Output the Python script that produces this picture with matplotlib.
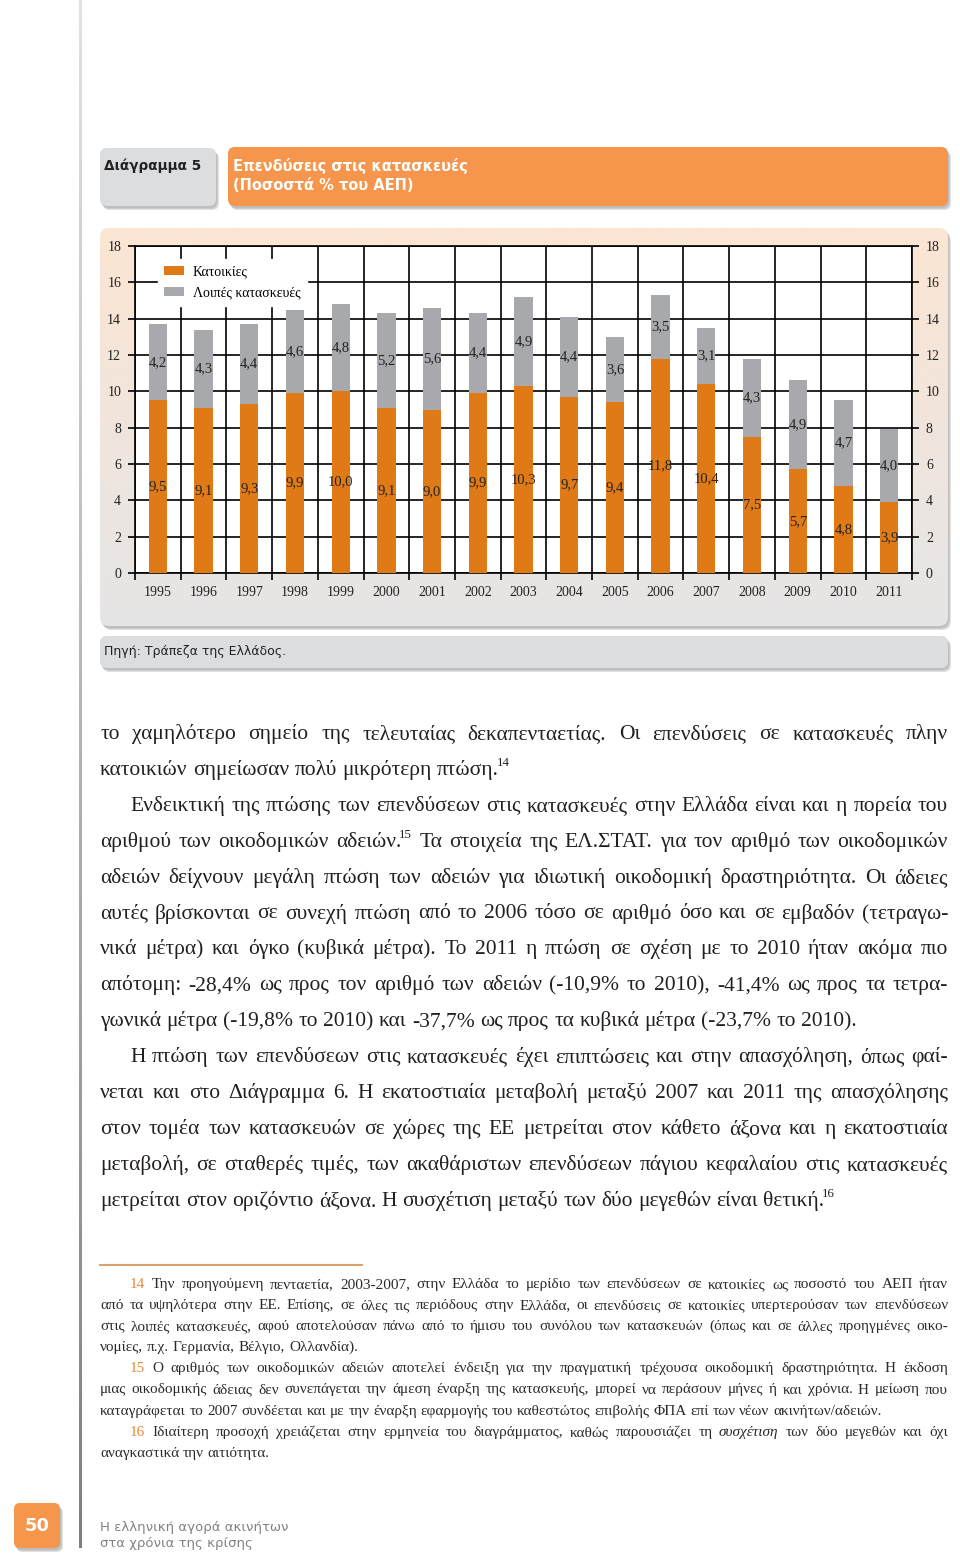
import matplotlib
matplotlib.use("Agg")
import matplotlib.pyplot as plt
import numpy as np
from matplotlib.patches import FancyBboxPatch
from matplotlib.colors import to_rgb

# chart data (Bank of Greece, % of GDP)
years = [str(y) for y in range(1995, 2012)]
housing = [9.5, 9.1, 9.3, 9.9, 10.0, 9.1, 9.0, 9.9, 10.3, 9.7, 9.4, 11.8, 10.4, 7.5, 5.7, 4.8, 3.9]
other = [4.2, 4.3, 4.4, 4.6, 4.8, 5.2, 5.6, 4.4, 4.9, 4.4, 3.6, 3.5, 3.1, 4.3, 4.9, 4.7, 4.0]
series_names = ["Κατοικίες", "Λοιπές κατασκευές"]
y_ticks = list(range(0, 19, 2))

# page text
label_box = "Διάγραμμα 5"
title_lines = ["Επενδύσεις στις κατασκευές", "(Ποσοστά % του ΑΕΠ)"]
source = "Πηγή: Τράπεζα της Ελλάδος."
footer_lines = ["Η ελληνική αγορά ακινήτων", "στα χρόνια της κρίσης"]
page_no = "50"

# (text, indented, justified)  ^ = superscript, # = orange word, * = italic word
body_lines = [
    ("το χαμηλότερο σημείο της τελευταίας δεκαπενταετίας. Οι επενδύσεις σε κατασκευές πλην", 0, True),
    ("κατοικιών σημείωσαν πολύ μικρότερη πτώση.^14", 0, False),
    ("Ενδεικτική της πτώσης των επενδύσεων στις κατασκευές στην Ελλάδα είναι και η πορεία του", 1, True),
    ("αριθμού των οικοδομικών αδειών.^15 Τα στοιχεία της ΕΛ.ΣΤΑΤ. για τον αριθμό των οικοδομικών", 0, True),
    ("αδειών δείχνουν μεγάλη πτώση των αδειών για ιδιωτική οικοδομική δραστηριότητα. Οι άδειες", 0, True),
    ("αυτές βρίσκονται σε συνεχή πτώση από το 2006 τόσο σε αριθμό όσο και σε εμβαδόν (τετραγω-", 0, True),
    ("νικά μέτρα) και όγκο (κυβικά μέτρα). Το 2011 η πτώση σε σχέση με το 2010 ήταν ακόμα πιο", 0, True),
    ("απότομη: -28,4% ως προς τον αριθμό των αδειών (-10,9% το 2010), -41,4% ως προς τα τετρα-", 0, True),
    ("γωνικά μέτρα (-19,8% το 2010) και -37,7% ως προς τα κυβικά μέτρα (-23,7% το 2010).", 0, False),
    ("Η πτώση των επενδύσεων στις κατασκευές έχει επιπτώσεις και στην απασχόληση, όπως φαί-", 1, True),
    ("νεται και στο Διάγραμμα 6. Η εκατοστιαία μεταβολή μεταξύ 2007 και 2011 της απασχόλησης", 0, True),
    ("στον τομέα των κατασκευών σε χώρες της ΕΕ μετρείται στον κάθετο άξονα και η εκατοστιαία", 0, True),
    ("μεταβολή, σε σταθερές τιμές, των ακαθάριστων επενδύσεων πάγιου κεφαλαίου στις κατασκευές", 0, True),
    ("μετρείται στον οριζόντιο άξονα. Η συσχέτιση μεταξύ των δύο μεγεθών είναι θετική.^16", 0, False),
]

note_lines = [
    ("#14 Την προηγούμενη πενταετία, 2003-2007, στην Ελλάδα το μερίδιο των επενδύσεων σε κατοικίες ως ποσοστό του ΑΕΠ ήταν", 1, True),
    ("από τα υψηλότερα στην ΕΕ. Επίσης, σε όλες τις περιόδους στην Ελλάδα, οι επενδύσεις σε κατοικίες υπερτερούσαν των επενδύσεων", 0, True),
    ("στις λοιπές κατασκευές, αφού αποτελούσαν πάνω από το ήμισυ του συνόλου των κατασκευών (όπως και σε άλλες προηγμένες οικο-", 0, True),
    ("νομίες, π.χ. Γερμανία, Βέλγιο, Ολλανδία).", 0, False),
    ("#15 Ο αριθμός των οικοδομικών αδειών αποτελεί ένδειξη για την πραγματική τρέχουσα οικοδομική δραστηριότητα. Η έκδοση", 1, True),
    ("μιας οικοδομικής άδειας δεν συνεπάγεται την άμεση έναρξη της κατασκευής, μπορεί να περάσουν μήνες ή και χρόνια. Η μείωση που", 0, True),
    ("καταγράφεται το 2007 συνδέεται και με την έναρξη εφαρμογής του καθεστώτος επιβολής ΦΠΑ επί των νέων ακινήτων/αδειών.", 0, False),
    ("#16 Ιδιαίτερη προσοχή χρειάζεται στην ερμηνεία του διαγράμματος, καθώς παρουσιάζει τη *συσχέτιση των δύο μεγεθών και όχι", 1, True),
    ("αναγκαστικά την αιτιότητα.", 0, False),
]

ORANGE = "#E07A16"
GREY = "#A8A9AD"
HEAD_ORANGE = "#F6964C"
BOX_GREY = "#DCDDDF"
TXT = "#231F20"
NOTE_ORANGE = "#E8893A"
SERIF = "Liberation Serif"
SANS = "DejaVu Sans"

W, H = 960, 1560
fig = plt.figure(figsize=(W / 100, H / 100), dpi=100)
page = fig.add_axes([0, 0, 1, 1])
page.axis("off")


def reset_page():
    page.set_xlim(0, W)
    page.set_ylim(H, 0)


def rbox(x0, y0, x1, y1, color, r=8, shadow=True, z=1):
    if shadow:
        for i, a in enumerate([0.10, 0.12, 0.16]):
            page.add_patch(FancyBboxPatch((x0 + 1 + i, y0 + 2 + i), x1 - x0, y1 - y0,
                                          boxstyle=f"round,pad=0,rounding_size={r}",
                                          fc="#444444", ec="none", alpha=a, zorder=z - 0.5))
    p = FancyBboxPatch((x0, y0), x1 - x0, y1 - y0, boxstyle=f"round,pad=0,rounding_size={r}",
                       fc=color, ec="none", zorder=z)
    page.add_patch(p)
    return p


def vgrad(c_top, c_bot, n=200):
    a, b = np.array(to_rgb(c_top)), np.array(to_rgb(c_bot))
    t = np.linspace(0, 1, n)[:, None]
    return (a + (b - a) * t)[:, None, :]


# left page rule
page.imshow(vgrad("#E2E2E2", "#7F7F7F"), extent=(78.5, 81.5, 1548, 0), aspect="auto", zorder=1)

# header boxes
rbox(100, 148, 216, 206, BOX_GREY, r=7)
page.text(104, 166, label_box, family=SANS, weight="bold", fontsize=9.8, color="#222222", va="center")
rbox(228, 147, 948, 206, HEAD_ORANGE, r=7)
page.text(233, 166, title_lines[0], family=SANS, weight="bold", fontsize=10.5, color="white", va="center")
page.text(233, 185, title_lines[1], family=SANS, weight="bold", fontsize=10.5, color="white", va="center")

# chart panel with gradient
panel = rbox(100, 228, 948, 626, "none", r=9)
im = page.imshow(vgrad("#FCE5D3", "#E5E5E6"), extent=(100, 948, 626, 228), aspect="auto", zorder=1.1)
im.set_clip_path(panel)

# source box
rbox(100, 636, 948, 668, BOX_GREY, r=7)
page.text(104, 651, source, family=SANS, fontsize=9, color="#222222", va="center")

# footer
rbox(14, 1503, 60, 1548, HEAD_ORANGE, r=6)
page.text(37, 1526, page_no, family=SANS, weight="bold", fontsize=13, color="white", ha="center", va="center")
page.text(100, 1527, footer_lines[0], family=SANS, fontsize=9.5, color="#808285", va="center")
page.text(100, 1543, footer_lines[1], family=SANS, fontsize=9.5, color="#808285", va="center")

# footnote rule
page.plot([100, 362], [1265, 1265], color="#D9A46B", lw=1.5)
reset_page()

# ---------- chart ----------
L, R, T, B = 135, 912, 246, 573
ax = fig.add_axes([L / W, 1 - B / H, (R - L) / W, (B - T) / H])
ax.set_facecolor("white")
x = np.arange(len(years))
b1 = ax.bar(x, housing, 0.4, color=ORANGE, label=series_names[0], zorder=3)
b2 = ax.bar(x, other, 0.4, bottom=housing, color=GREY, label=series_names[1], zorder=3)

for i in range(len(years)):
    ax.text(x[i], housing[i] / 2, f"{housing[i]:.1f}".replace(".", ","), ha="center", va="center",
            family=SERIF, fontsize=10.5, color="#222222", zorder=4)
    ax.text(x[i], housing[i] + other[i] / 2, f"{other[i]:.1f}".replace(".", ","), ha="center", va="center",
            family=SERIF, fontsize=10.5, color="#222222", zorder=4)

ax.set_xlim(-0.5, len(years) - 0.5)
ax.set_ylim(0, 18)
ax.set_xticks(np.arange(len(years) + 1) - 0.5)
ax.set_xticklabels([])
ax.set_xticks(x, minor=True)
ax.set_xticklabels(years, minor=True, family=SERIF, fontsize=10, color="#222222")
ax.tick_params(axis="x", which="major", length=5, width=1.2, direction="out", color="black")
ax.tick_params(axis="x", which="minor", length=0, pad=9)
ax.set_yticks(y_ticks)
ax.set_yticklabels([str(v) for v in y_ticks], family=SERIF, fontsize=10, color="#222222")
ax.tick_params(axis="y", left=True, right=True, labelleft=True, labelright=True,
               length=5, width=1.2, pad=5, color="black")
for lab in ax.get_yticklabels():
    lab.set_family(SERIF)
ax.set_axisbelow(True)
ax.grid(True, which="major", color="black", lw=1.2)
for s in ax.spines.values():
    s.set_color("black")
    s.set_linewidth(1.2)

leg = ax.legend(loc="upper left", bbox_to_anchor=((158 - L) / (R - L), (B - 259) / (B - T)),
                borderaxespad=0, borderpad=0.45, frameon=True, fancybox=False, framealpha=1,
                facecolor="white", edgecolor="white", handlelength=1.4, handleheight=0.6,
                handletextpad=0.65, labelspacing=0.6, prop={"family": SERIF, "size": 10})
leg.set_zorder(5)

# ---------- running text ----------
renderer = fig.canvas.get_renderer()
probe = page.text(0, 0, "", family=SERIF)


def parse(w):
    color, style, sup = None, "normal", None
    if w.startswith("#"):
        color, w = NOTE_ORANGE, w[1:]
    if w.startswith("*"):
        style, w = "italic", w[1:]
    if "^" in w:
        w, sup = w.split("^")
    return w, sup, color, style


def measure(s, size, style="normal"):
    probe.set_text(s)
    probe.set_fontsize(size)
    probe.set_fontstyle(style)
    return probe.get_window_extent(renderer).width


def line_width(text, size):
    total, n = 0.0, 0
    for w in text.split():
        main, sup, c, st = parse(w)
        total += measure(main, size, st)
        if sup:
            total += measure(sup, size * 0.6) - 2
        n += 1
    return total, n


def fit(lines, size, x0, x1, indent, min_gap=0.2):
    f = 1.0
    for t, ind, just in lines:
        wd, n = line_width(t, size)
        need = wd + (n - 1) * min_gap * size * 100 / 72
        f = max(f, need / (x1 - x0 - ind * indent))
    return size / f


def draw_lines(lines, y0, step, size, x0, x1, indent, color):
    px = size * 100 / 72
    for k, (t, ind, just) in enumerate(lines):
        y = y0 + k * step
        groups, widths = [], []
        for w in t.split():
            main, sup, c, st = parse(w)
            txt = page.text(0, y, main, family=SERIF, fontsize=size, style=st,
                            color=c or color, va="baseline")
            wd = measure(main, size, st)
            g = [(txt, 0)]
            if sup:
                s = page.text(0, y - 0.42 * px, sup, family=SERIF, fontsize=size * 0.6,
                              color=color, va="baseline")
                g.append((s, wd - 2))
                wd += measure(sup, size * 0.6) - 2
            groups.append(g)
            widths.append(wd)
        start = x0 + ind * indent
        if just and len(groups) > 1:
            gap = (x1 - start - sum(widths)) / (len(groups) - 1)
        else:
            gap = 0.25 * px
        xx = start
        for g, wd in zip(groups, widths):
            for txt, off in g:
                txt.set_x(xx + off)
            xx += wd + gap


body_size = fit(body_lines, 15.5, 100, 948, 30)
draw_lines(body_lines, 739, 35.9, body_size, 100, 948, 30, TXT)
note_size = fit(note_lines, 11, 100, 948, 30)
draw_lines(note_lines, 1288, 21.1, note_size, 100, 948, 30, "#2A2A2A")
probe.remove()
reset_page()

fig.savefig("out.png", dpi=100)
